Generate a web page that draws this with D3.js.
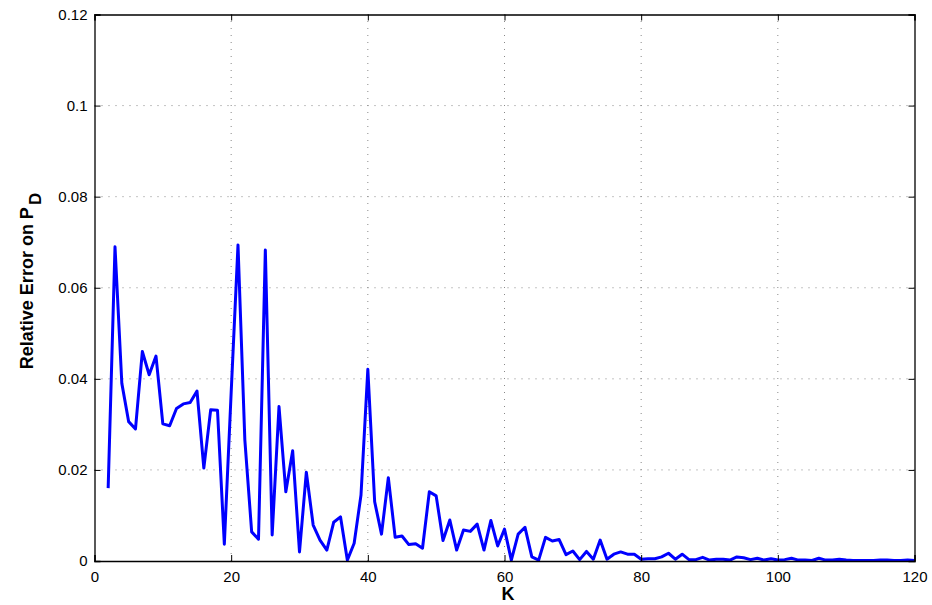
<!DOCTYPE html>
<html>
<head>
<meta charset="utf-8">
<script src="https://cdn.jsdelivr.net/npm/d3@7"></script>
<style>
  body { margin: 0; background: #fff; }
  svg { display: block; }
</style>
</head>
<body>
<svg id="chart" width="932" height="605"></svg>
<script>
// K values 2..120 and relative error
const kValues = d3.range(2, 121);
const errValues = [
  0.0160, 0.0690, 0.0390, 0.0306, 0.0290, 0.0460, 0.0409, 0.0450, 0.0301, 0.0297,
  0.0335, 0.0345, 0.0348, 0.0373, 0.0204, 0.0332, 0.0331, 0.0037, 0.0370, 0.0694,
  0.0266, 0.0064, 0.0048, 0.0683, 0.0057, 0.0339, 0.0152, 0.0242, 0.0020, 0.0195,
  0.0079, 0.0046, 0.0024, 0.0085, 0.0097, 0.0002, 0.0039, 0.0145, 0.0421, 0.0130,
  0.0059, 0.0183, 0.0052, 0.0055, 0.0036, 0.0038, 0.0028, 0.0152, 0.0143, 0.0045,
  0.0090, 0.0024, 0.0068, 0.0065, 0.0081, 0.0024, 0.0089, 0.0033, 0.0070, 0.0002,
  0.0059, 0.0074, 0.0009, 0.0002, 0.0052, 0.0044, 0.0047, 0.0014, 0.0022, 0.0003,
  0.0021, 0.0004, 0.0046, 0.0004, 0.0015, 0.0020, 0.0015, 0.0015, 0.0004, 0.0005,
  0.0005, 0.0009, 0.0017, 0.0004, 0.0015, 0.0003, 0.0003, 0.0008, 0.0002, 0.0004,
  0.0004, 0.0002, 0.0009, 0.0007, 0.0003, 0.0006, 0.0002, 0.0005, 0.0002, 0.0003,
  0.0006, 0.0002, 0.0002, 0.0001, 0.0006, 0.0002, 0.0002, 0.0004, 0.0002, 0.0001,
  0.0001, 0.0001, 0.0001, 0.0002, 0.0002, 0.0001, 0.0001, 0.0002, 0.0001
];
const xTicks = [0, 20, 40, 60, 80, 100, 120];
const yTicks = [0, 0.02, 0.04, 0.06, 0.08, 0.1, 0.12];

const data = kValues.map((k, i) => ({ k: k, v: errValues[i] }));

const margin = { left: 94.5, right: 17.5, top: 14.5, bottom: 44 };
const W = 932, H = 605;

const svg = d3.select("#chart");

const x = d3.scaleLinear().domain([0, 120]).range([margin.left, W - margin.right]);
const y = d3.scaleLinear().domain([0, 0.12]).range([H - margin.bottom, margin.top]);

// Grid
svg.append("g")
    .selectAll("line")
    .data(xTicks.slice(1, -1))
    .join("line")
    .attr("x1", d => x(d)).attr("x2", d => x(d))
    .attr("y1", y(0)).attr("y2", y(0.12))
    .attr("stroke", "#888")
    .attr("stroke-width", 1)
    .attr("stroke-dasharray", "1,6");

svg.append("g")
    .selectAll("line")
    .data(yTicks.slice(1, -1))
    .join("line")
    .attr("x1", x(0)).attr("x2", x(120))
    .attr("y1", d => y(d)).attr("y2", d => y(d))
    .attr("stroke", "#888")
    .attr("stroke-width", 1)
    .attr("stroke-dasharray", "1,6");

// Line
const line = d3.line()
    .x(d => x(d.k))
    .y(d => y(d.v));

svg.append("path")
    .datum(data)
    .attr("d", line)
    .attr("fill", "none")
    .attr("stroke", "#0000ff")
    .attr("stroke-width", 3)
    .attr("stroke-linejoin", "round");

// Axes (MATLAB-style inward ticks)
const fontFam = "'Liberation Sans', Arial, Helvetica, sans-serif";

svg.append("g")
    .attr("transform", `translate(0,${y(0)})`)
    .call(d3.axisBottom(x).tickValues(xTicks).tickSize(-6).tickPadding(10).tickFormat(d3.format("d")));
svg.append("g")
    .attr("transform", `translate(${x(0)},0)`)
    .call(d3.axisLeft(y).tickValues(yTicks).tickSize(-6).tickPadding(7).tickFormat(d => d === 0 ? "0" : String(+d.toFixed(2))));

svg.append("g")
    .attr("transform", `translate(0,${y(0.12)})`)
    .call(d3.axisTop(x).tickValues(xTicks).tickSize(-6).tickFormat(""));
svg.append("g")
    .attr("transform", `translate(${x(120)},0)`)
    .call(d3.axisRight(y).tickValues(yTicks).tickSize(-6).tickFormat(""));

svg.selectAll(".domain").attr("stroke", "#000").attr("stroke-width", 1.3);
svg.selectAll(".tick line").attr("stroke", "#000");
svg.selectAll(".tick text")
    .attr("font-family", fontFam)
    .attr("font-size", 15)
    .attr("fill", "#000");

// Axis labels
svg.append("text")
    .attr("x", 508)
    .attr("y", 600)
    .attr("text-anchor", "middle")
    .attr("font-family", fontFam)
    .attr("font-weight", "bold")
    .attr("font-size", 18)
    .text("K");

const yl = svg.append("text")
    .attr("transform", "translate(33,281) rotate(-90)")
    .attr("text-anchor", "middle")
    .attr("font-family", fontFam)
    .attr("font-weight", "bold")
    .attr("font-size", 18);
yl.append("tspan").text("Relative Error on P");
yl.append("tspan").attr("dy", 8).attr("dx", 2).attr("font-size", 17).text("D");
</script>
</body>
</html>
